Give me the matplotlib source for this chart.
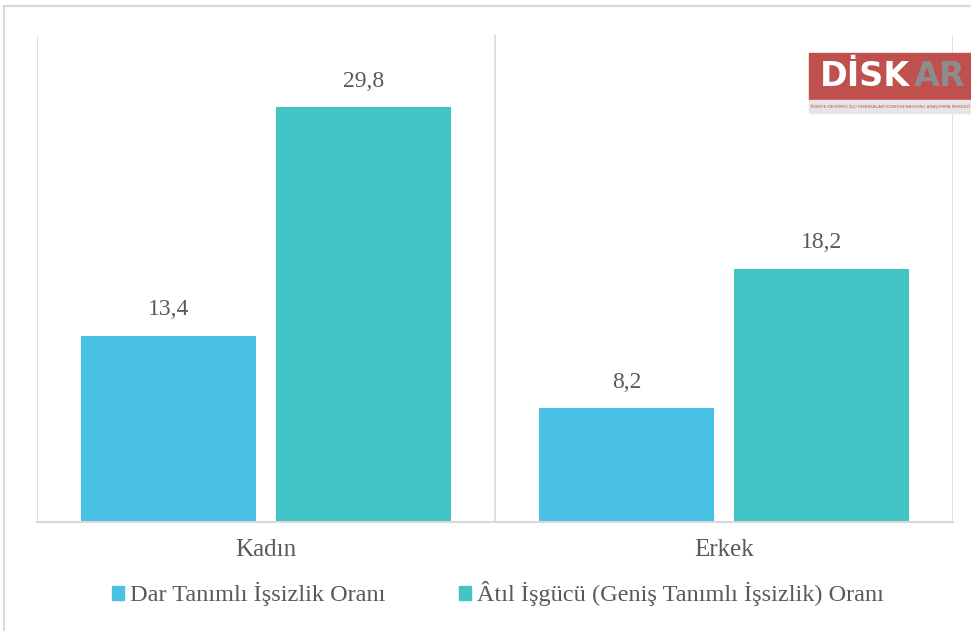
import matplotlib.pyplot as plt
import matplotlib.patches as mpatches
from matplotlib.lines import Line2D
import numpy as np

plt.rcParams['font.family'] = ['Liberation Serif', 'DejaVu Serif']

categories = ['Kadın', 'Erkek']
series_names = ['Dar Tanımlı İşsizlik Oranı', 'Âtıl İşgücü (Geniş Tanımlı İşsizlik) Oranı']
dar = [13.4, 8.2]
atil = [29.8, 18.2]
value_labels_dar = ['13,4', '8,2']
value_labels_atil = ['29,8', '18,2']

BLUE = '#48C0E3'
TEAL = '#42C3C4'
TXT = '#595959'
GRID = '#D9D9D9'

fig = plt.figure(figsize=(9.71, 6.31), dpi=100)
W, H = 971, 631
ax = fig.add_axes([37 / W, 1 - 522 / H, (953 - 37) / W, (522 - 35) / H])

x = np.arange(len(categories))
bw = 0.382
off = 0.212
b1 = ax.bar(x - off, dar, bw, color=BLUE, label=series_names[0])
b2 = ax.bar(x + off, atil, bw, color=TEAL, label=series_names[1])

for rect, lab in zip(b1, value_labels_dar):
    ax.text(rect.get_x() + rect.get_width() / 2, rect.get_height() + 1.1, lab,
            ha='center', va='bottom', fontsize=17, color=TXT)
for rect, lab in zip(b2, value_labels_atil):
    ax.text(rect.get_x() + rect.get_width() / 2, rect.get_height() + 1.1, lab,
            ha='center', va='bottom', fontsize=17, color=TXT)

ax.set_xlim(-0.5, 1.5)
ax.set_ylim(0, 35)
for xv in [-0.5, 0.5, 1.5]:
    ax.axvline(xv, color=GRID, lw=1.2, zorder=0)
for s in ['top', 'right', 'left']:
    ax.spines[s].set_visible(False)
ax.spines['bottom'].set_color(GRID)
ax.spines['bottom'].set_linewidth(1.5)
ax.set_yticks([])
ax.set_xticks(x)
ax.set_xticklabels(categories, fontsize=18, color=TXT)
ax.tick_params(axis='x', length=0, pad=12)

handles = [mpatches.Patch(color=BLUE), mpatches.Patch(color=TEAL)]
fig.legend(handles, series_names, loc='center', bbox_to_anchor=(498 / W, 1 - 594 / H),
           ncol=2, frameon=False, fontsize=17.5, labelcolor=TXT,
           handlelength=0.5, handleheight=0.5, handletextpad=0.25, columnspacing=3.0)

# outer frame
fig.add_artist(Line2D([4 / W, 4 / W], [0, 1 - 6 / H], color=GRID, lw=1.5))
fig.add_artist(Line2D([4 / W, 1], [1 - 6 / H, 1 - 6 / H], color=GRID, lw=1.5))

# logo
fig.add_artist(mpatches.Rectangle((809 / W, 1 - 100 / H), (971 - 809) / W, 47 / H,
                                  color='#C0504D', transform=fig.transFigure))
fig.add_artist(mpatches.Rectangle((809 / W, 1 - 113 / H), (971 - 809) / W, 13 / H,
                                  color='#E6E6E6', transform=fig.transFigure))
fig.text(820 / W, 1 - 77 / H, 'DİSK', fontsize=24, fontweight='bold', color='white',
         family='DejaVu Sans', va='center', ha='left')
fig.text(914 / W, 1 - 77 / H, 'AR', fontsize=24, fontweight='bold', color='#8C8C8C',
         family='DejaVu Sans', va='center', ha='left')
fig.text(890 / W, 1 - 107 / H, 'TÜRKİYE DEVRİMCİ İŞÇİ SENDİKALARI KONFEDERASYONU ARAŞTIRMA MERKEZİ',
         fontsize=3, color='#C0504D', family='DejaVu Sans', va='center', ha='center')

fig.savefig('out.png', dpi=100)
